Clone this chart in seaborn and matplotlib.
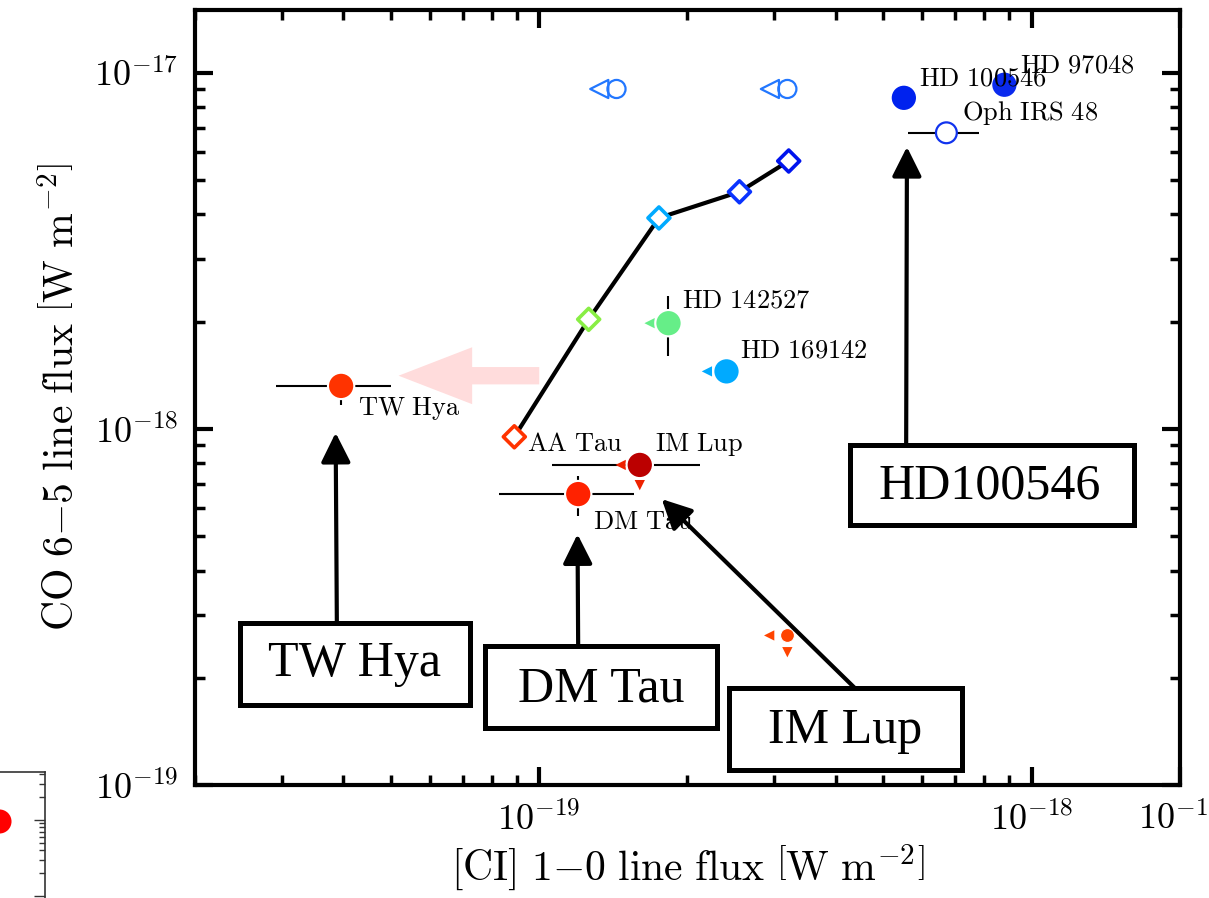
import numpy as np
import pandas as pd
import matplotlib.pyplot as plt
import seaborn as sns
from matplotlib.patches import Rectangle
from matplotlib.ticker import NullFormatter

# model track (open diamonds joined by a line)
track_x = [8.9e-20, 1.26e-19, 1.75e-19, 2.55e-19, 3.21e-19]
track_y = [9.5e-19, 2.03e-18, 3.91e-18, 4.63e-18, 5.65e-18]
track_colors = ['#ff3300', '#88ee44', '#00aaff', '#0a33ff', '#0014ee']

# detected sources (filled circles)
src_names = ['HD 97048', 'HD 100546', 'HD 142527', 'HD 169142', 'TW Hya', 'DM Tau', 'IM Lup']
src_x = [8.8e-19, 5.5e-19, 1.83e-19, 2.4e-19, 3.96e-20, 1.2e-19, 1.6e-19]
src_y = [9.25e-18, 8.5e-18, 1.98e-18, 1.45e-18, 1.32e-18, 6.56e-19, 7.92e-19]
src_colors = ['#0a2aee', '#0022ee', '#66ee88', '#00aaff', '#ff3300', '#ff2200', '#bb0000']

# error bars (x, y, x-, x+, y-, y+)
eb_x = [6.71e-19, 3.96e-20, 1.2e-19, 1.6e-19, 1.83e-19]
eb_y = [6.78e-18, 1.32e-18, 6.56e-19, 7.92e-19, 1.98e-18]
eb_xlo = [1.1e-19, 1.04e-20, 0.37e-19, 0.54e-19, 0.0]
eb_xhi = [1.12e-19, 1.05e-20, 0.36e-19, 0.52e-19, 0.0]
eb_ylo = [0.0, 0.15e-18, 0.87e-19, 0.0, 0.38e-18]
eb_yhi = [0.0, 0.05e-18, 0.82e-19, 0.0, 0.38e-18]

# open circles (Oph IRS 48 and two upper limits)
open_x = [6.71e-19, 1.435e-19, 3.19e-19]
open_y = [6.78e-18, 9.0e-18, 9.0e-18]
open_colors = ['#1133ee', '#2277ff', '#2277ff']

# upper-limit triangles
ul_open_x = [1.324e-19, 2.94e-19]
ul_open_y = [9.0e-18, 9.0e-18]
ul_left_x = [1.675e-19, 2.19e-19, 1.463e-19, 2.93e-19]
ul_left_y = [1.98e-18, 1.45e-18, 7.92e-19, 2.63e-19]
ul_left_colors = ['#66ee88', '#00aaff', '#ee2200', '#ff4400']
ul_down_x = [1.6e-19, 3.19e-19]
ul_down_y = [6.95e-19, 2.36e-19]
ul_down_colors = ['#ee2200', '#ff4400']

# small orange point
small_x = [3.19e-19]
small_y = [2.63e-19]

sns.set_theme(style='ticks')
plt.rcParams['mathtext.fontset'] = 'cm'
plt.rcParams['font.family'] = ['DejaVu Serif']
plt.rcParams['axes.formatter.use_mathtext'] = True
plt.rcParams['text.color'] = 'black'
plt.rcParams['axes.labelcolor'] = 'black'

fig = plt.figure(figsize=(12.09, 8.98), dpi=100)
ax = fig.add_axes([0.1613, 0.1258, 0.8147, 0.8631])
ax.set_xscale('log')
ax.set_yscale('log')

# model track
sns.lineplot(x=track_x, y=track_y, color='black', lw=3, sort=False, ax=ax, zorder=2)
ax.scatter(track_x, track_y, marker='D', s=125, facecolors='white',
           edgecolors=track_colors, linewidths=2.6, zorder=3)

# error bars
ax.errorbar(eb_x, eb_y, xerr=[eb_xlo, eb_xhi], yerr=[eb_ylo, eb_yhi],
            fmt='none', ecolor='black', elinewidth=1.5, capsize=0, zorder=2)

# filled sources
df = pd.DataFrame({'x': src_x, 'y': src_y, 'name': src_names})
sns.scatterplot(data=df, x='x', y='y', hue='name', palette=dict(zip(src_names, src_colors)),
                s=360, edgecolor='white', linewidth=1.5, legend=False, ax=ax, zorder=4)
sns.scatterplot(x=small_x, y=small_y, color='#ff4400', s=100, edgecolor='white',
                linewidth=0.8, ax=ax, zorder=4)

# open circles and limits
ax.scatter(open_x, open_y, s=[225, 170, 170], facecolors='white', edgecolors=open_colors,
           linewidths=1.6, zorder=4)
ax.scatter(ul_open_x, ul_open_y, marker='<', s=170, facecolors='none',
           edgecolors='#2277ff', linewidths=1.6, zorder=4)
ax.scatter(ul_left_x, ul_left_y, marker='<', s=55, c=ul_left_colors, linewidths=0, zorder=3)
ax.scatter(ul_down_x, ul_down_y, marker='v', s=55, c=ul_down_colors, linewidths=0, zorder=3)

# pink arrow
ax.annotate('', xy=(5.18e-20, 1.41e-18), xytext=(1.0e-19, 1.41e-18),
            arrowprops=dict(arrowstyle='simple,head_width=4.1,head_length=5.3,tail_width=1.25',
                            mutation_scale=10, color='#ffdcdc', lw=0,
                            shrinkA=0, shrinkB=0), zorder=1)

# point labels
labels = [('HD 97048', 8.8e-19, 9.25e-18, 16, 20),
          ('HD 100546', 5.5e-19, 8.5e-18, 15, 20),
          ('Oph IRS 48', 6.71e-19, 6.78e-18, 16, 20),
          ('HD 142527', 1.83e-19, 1.98e-18, 14, 23),
          ('HD 169142', 2.4e-19, 1.45e-18, 14, 21),
          ('TW Hya', 3.96e-20, 1.32e-18, 17, -23),
          ('AA Tau', 8.9e-20, 9.5e-19, 13, -7),
          ('IM Lup', 1.6e-19, 7.92e-19, 15, 20),
          ('DM Tau', 1.2e-19, 6.56e-19, 15, -27)]
for txt, lx, ly, dx, dy in labels:
    ax.annotate(r'$\mathrm{' + txt.replace(' ', r'\ ') + '}$', xy=(lx, ly),
                xytext=(dx, dy), textcoords='offset pixels', fontsize=19,
                ha='left', va='center', color='black', zorder=6)

# boxed names with arrows
boxes = [('TW Hya', (0.0457, 0.103, 0.2333, 0.106), (0.1624, 0.156), (0.144, 0.209), (3.86e-20, 9.75e-19)),
         ('DM Tau', (0.2944, 0.0735, 0.2356, 0.1055), (0.412, 0.124), (0.389, 0.179), (1.196e-19, 5.06e-19)),
         ('IM Lup', (0.542, 0.0194, 0.2366, 0.1056), (0.66, 0.0697), (0.670, 0.125), (1.773e-19, 6.35e-19)),
         ('HD100546', (0.665, 0.335, 0.288, 0.104), (0.807, 0.385), (0.722, 0.439), (5.58e-19, 6.19e-18))]
for txt, rect, tpos, tail, tip in boxes:
    ax.annotate('', xy=tip, xycoords='data', xytext=tail, textcoords='axes fraction',
                arrowprops=dict(arrowstyle='-|>,head_length=0.6,head_width=0.3',
                                mutation_scale=30, color='black', lw=3,
                                shrinkA=0, shrinkB=0), zorder=5)
    ax.add_patch(Rectangle(rect[:2], rect[2], rect[3], transform=ax.transAxes,
                           facecolor='white', edgecolor='black', lw=3.6, zorder=6, clip_on=False))
    ax.text(tpos[0], tpos[1], txt, transform=ax.transAxes, ha='center', va='center',
            fontsize=36, family='Liberation Serif', color='black', zorder=7)

ax.set_xlim(2e-20, 2e-18)
ax.set_ylim(1e-19, 1.5e-17)
ax.set_xticks([1e-19, 1e-18, 2e-18], labels=[r'$10^{-19}$', r'$10^{-18}$', r'$10^{-17}$'])
ax.set_yticks([1e-19, 1e-18, 1e-17], labels=[r'$10^{-19}$', r'$10^{-18}$', r'$10^{-17}$'])
ax.xaxis.set_minor_formatter(NullFormatter())
ax.yaxis.set_minor_formatter(NullFormatter())
ax.tick_params(which='both', direction='in', top=True, right=True, colors='black',
               labelcolor='black', labelsize=26)
ax.tick_params(which='major', length=13, width=3, pad=12)
ax.tick_params(which='minor', length=7, width=2.5)
for sp in ax.spines.values():
    sp.set_linewidth(3)
    sp.set_color('black')

ax.set_xlabel(r'$\mathrm{[CI]\ 1{-}0\ line\ flux\ \left[W\ m^{-2}\right]}$', fontsize=30,
              labelpad=4, color='black')
ax.set_ylabel(r'$\mathrm{CO\ 6{-}5\ line\ flux\ \left[W\ m^{-2}\right]}$', fontsize=30,
              labelpad=8, color='black')

# fragment of a neighbouring panel at lower left
ax2 = fig.add_axes([-0.2, -0.1, 0.2372, 0.2403])
ax2.set_yscale('log')
ax2.set_xlim(0, 1)
ax2.set_ylim(0.0062, 4.27)
sns.scatterplot(x=[0.84], y=[0.97], color='#ff0000', s=300, linewidth=0, ax=ax2)
ax2.tick_params(which='both', direction='in', left=False, right=True, bottom=False,
                labelleft=False, labelbottom=False, width=1, colors='#333333')
ax2.tick_params(which='major', length=8)
ax2.tick_params(which='minor', length=4)
ax2.yaxis.set_minor_formatter(NullFormatter())
for sp in ax2.spines.values():
    sp.set_linewidth(1.2)
    sp.set_color('#333333')

fig.savefig('out.png', dpi=100)
